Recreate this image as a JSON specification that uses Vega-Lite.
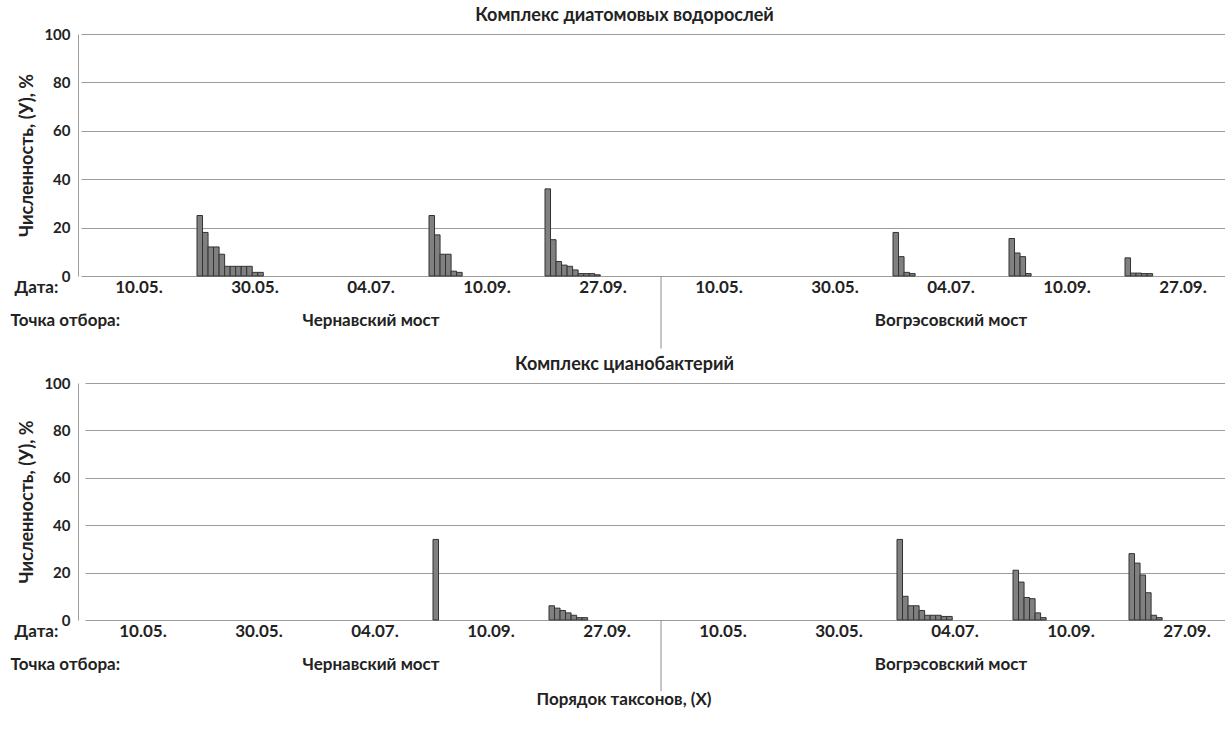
{
  "$schema": "https://vega.github.io/schema/vega-lite/v6.json",
  "background": "white",
  "padding": {"left": 10, "top": 7, "right": 0, "bottom": 5},
  "config": {
    "font": "Lato",
    "view": {"stroke": null},
    "axis": {"labelFont": "Lato", "labelFontWeight": "bold", "labelColor": "#222222", "titleFont": "Lato", "titleFontWeight": "bold", "titleColor": "#222222", "labelFontSize": 17, "titleFontSize": 17},
    "title": {"font": "Lato", "fontWeight": "bold", "fontSize": 18, "color": "#222222"}
  },
  "datasets": {
    "bars": [
      {"complex": "diatoms", "sample": "Чернавский мост 30.05.", "rank": 1, "value": 25},
      {"complex": "diatoms", "sample": "Чернавский мост 30.05.", "rank": 2, "value": 18},
      {"complex": "diatoms", "sample": "Чернавский мост 30.05.", "rank": 3, "value": 12},
      {"complex": "diatoms", "sample": "Чернавский мост 30.05.", "rank": 4, "value": 12},
      {"complex": "diatoms", "sample": "Чернавский мост 30.05.", "rank": 5, "value": 9},
      {"complex": "diatoms", "sample": "Чернавский мост 30.05.", "rank": 6, "value": 4},
      {"complex": "diatoms", "sample": "Чернавский мост 30.05.", "rank": 7, "value": 4},
      {"complex": "diatoms", "sample": "Чернавский мост 30.05.", "rank": 8, "value": 4},
      {"complex": "diatoms", "sample": "Чернавский мост 30.05.", "rank": 9, "value": 4},
      {"complex": "diatoms", "sample": "Чернавский мост 30.05.", "rank": 10, "value": 4},
      {"complex": "diatoms", "sample": "Чернавский мост 30.05.", "rank": 11, "value": 1.5},
      {"complex": "diatoms", "sample": "Чернавский мост 30.05.", "rank": 12, "value": 1.5},
      {"complex": "diatoms", "sample": "Чернавский мост 10.09.", "rank": 1, "value": 25},
      {"complex": "diatoms", "sample": "Чернавский мост 10.09.", "rank": 2, "value": 17},
      {"complex": "diatoms", "sample": "Чернавский мост 10.09.", "rank": 3, "value": 9},
      {"complex": "diatoms", "sample": "Чернавский мост 10.09.", "rank": 4, "value": 9},
      {"complex": "diatoms", "sample": "Чернавский мост 10.09.", "rank": 5, "value": 2},
      {"complex": "diatoms", "sample": "Чернавский мост 10.09.", "rank": 6, "value": 1.5},
      {"complex": "diatoms", "sample": "Чернавский мост 27.09.", "rank": 1, "value": 36},
      {"complex": "diatoms", "sample": "Чернавский мост 27.09.", "rank": 2, "value": 15},
      {"complex": "diatoms", "sample": "Чернавский мост 27.09.", "rank": 3, "value": 6},
      {"complex": "diatoms", "sample": "Чернавский мост 27.09.", "rank": 4, "value": 4.5},
      {"complex": "diatoms", "sample": "Чернавский мост 27.09.", "rank": 5, "value": 4},
      {"complex": "diatoms", "sample": "Чернавский мост 27.09.", "rank": 6, "value": 2.5},
      {"complex": "diatoms", "sample": "Чернавский мост 27.09.", "rank": 7, "value": 1},
      {"complex": "diatoms", "sample": "Чернавский мост 27.09.", "rank": 8, "value": 1},
      {"complex": "diatoms", "sample": "Чернавский мост 27.09.", "rank": 9, "value": 1},
      {"complex": "diatoms", "sample": "Чернавский мост 27.09.", "rank": 10, "value": 0.5},
      {"complex": "diatoms", "sample": "Вогрэсовский мост 04.07.", "rank": 1, "value": 18},
      {"complex": "diatoms", "sample": "Вогрэсовский мост 04.07.", "rank": 2, "value": 8},
      {"complex": "diatoms", "sample": "Вогрэсовский мост 04.07.", "rank": 3, "value": 1.5},
      {"complex": "diatoms", "sample": "Вогрэсовский мост 04.07.", "rank": 4, "value": 1},
      {"complex": "diatoms", "sample": "Вогрэсовский мост 10.09.", "rank": 1, "value": 15.5},
      {"complex": "diatoms", "sample": "Вогрэсовский мост 10.09.", "rank": 2, "value": 9.5},
      {"complex": "diatoms", "sample": "Вогрэсовский мост 10.09.", "rank": 3, "value": 8},
      {"complex": "diatoms", "sample": "Вогрэсовский мост 10.09.", "rank": 4, "value": 1},
      {"complex": "diatoms", "sample": "Вогрэсовский мост 27.09.", "rank": 1, "value": 7.5},
      {"complex": "diatoms", "sample": "Вогрэсовский мост 27.09.", "rank": 2, "value": 1.2},
      {"complex": "diatoms", "sample": "Вогрэсовский мост 27.09.", "rank": 3, "value": 1.2},
      {"complex": "diatoms", "sample": "Вогрэсовский мост 27.09.", "rank": 4, "value": 1},
      {"complex": "diatoms", "sample": "Вогрэсовский мост 27.09.", "rank": 5, "value": 1},
      {"complex": "cyano", "sample": "Чернавский мост 10.09.", "rank": 1, "value": 34},
      {"complex": "cyano", "sample": "Чернавский мост 27.09.", "rank": 1, "value": 6},
      {"complex": "cyano", "sample": "Чернавский мост 27.09.", "rank": 2, "value": 5},
      {"complex": "cyano", "sample": "Чернавский мост 27.09.", "rank": 3, "value": 4},
      {"complex": "cyano", "sample": "Чернавский мост 27.09.", "rank": 4, "value": 3},
      {"complex": "cyano", "sample": "Чернавский мост 27.09.", "rank": 5, "value": 2},
      {"complex": "cyano", "sample": "Чернавский мост 27.09.", "rank": 6, "value": 1},
      {"complex": "cyano", "sample": "Чернавский мост 27.09.", "rank": 7, "value": 1},
      {"complex": "cyano", "sample": "Вогрэсовский мост 04.07.", "rank": 1, "value": 34},
      {"complex": "cyano", "sample": "Вогрэсовский мост 04.07.", "rank": 2, "value": 10},
      {"complex": "cyano", "sample": "Вогрэсовский мост 04.07.", "rank": 3, "value": 6},
      {"complex": "cyano", "sample": "Вогрэсовский мост 04.07.", "rank": 4, "value": 6},
      {"complex": "cyano", "sample": "Вогрэсовский мост 04.07.", "rank": 5, "value": 4},
      {"complex": "cyano", "sample": "Вогрэсовский мост 04.07.", "rank": 6, "value": 2},
      {"complex": "cyano", "sample": "Вогрэсовский мост 04.07.", "rank": 7, "value": 2},
      {"complex": "cyano", "sample": "Вогрэсовский мост 04.07.", "rank": 8, "value": 2},
      {"complex": "cyano", "sample": "Вогрэсовский мост 04.07.", "rank": 9, "value": 1.5},
      {"complex": "cyano", "sample": "Вогрэсовский мост 04.07.", "rank": 10, "value": 1.5},
      {"complex": "cyano", "sample": "Вогрэсовский мост 10.09.", "rank": 1, "value": 21},
      {"complex": "cyano", "sample": "Вогрэсовский мост 10.09.", "rank": 2, "value": 16},
      {"complex": "cyano", "sample": "Вогрэсовский мост 10.09.", "rank": 3, "value": 9.5},
      {"complex": "cyano", "sample": "Вогрэсовский мост 10.09.", "rank": 4, "value": 9},
      {"complex": "cyano", "sample": "Вогрэсовский мост 10.09.", "rank": 5, "value": 3},
      {"complex": "cyano", "sample": "Вогрэсовский мост 10.09.", "rank": 6, "value": 1},
      {"complex": "cyano", "sample": "Вогрэсовский мост 27.09.", "rank": 1, "value": 28},
      {"complex": "cyano", "sample": "Вогрэсовский мост 27.09.", "rank": 2, "value": 24},
      {"complex": "cyano", "sample": "Вогрэсовский мост 27.09.", "rank": 3, "value": 19},
      {"complex": "cyano", "sample": "Вогрэсовский мост 27.09.", "rank": 4, "value": 11.5},
      {"complex": "cyano", "sample": "Вогрэсовский мост 27.09.", "rank": 5, "value": 2},
      {"complex": "cyano", "sample": "Вогрэсовский мост 27.09.", "rank": 6, "value": 1}
    ],
    "sites": [
      {"site": "Вогрэсовский мост"}
    ]
  },
  "title": {"text": "Порядок таксонов, (X)", "orient": "bottom", "anchor": "middle", "offset": 0, "fontSize": 17},
  "spacing": 6,
  "vconcat": [
    {
      "title": {"text": "Комплекс диатомовых водорослей", "offset": 2, "dx": -22},
      "width": 1137,
      "height": 242,
      "resolve": {"scale": {"x": "independent"}, "axis": {"x": "independent"}},
      "layer": [
        {
          "data": {"name": "bars"},
          "transform": [{"filter": "datum.complex == 'diatoms'"}],
          "mark": {"type": "bar", "fill": "#808080", "stroke": "#333333", "strokeWidth": 1},
          "encoding": {
            "x": {
              "field": "sample", "type": "nominal",
              "scale": {"domain": ["Чернавский мост 10.05.", "Чернавский мост 30.05.", "Чернавский мост 04.07.", "Чернавский мост 10.09.", "Чернавский мост 27.09.", "Вогрэсовский мост 10.05.", "Вогрэсовский мост 30.05.", "Вогрэсовский мост 04.07.", "Вогрэсовский мост 10.09.", "Вогрэсовский мост 27.09."], "range": [3, 1163], "paddingInner": 0, "paddingOuter": 0},
              "axis": {"orient": "bottom", "title": "Дата:", "labelExpr": "slice(datum.label, -6)", "labelAngle": 0, "ticks": false, "domain": false, "grid": false, "labelPadding": 3, "titleX": -64, "titleY": 3, "titleAlign": "left", "titleBaseline": "top", "titleAnchor": null}
            },
            "xOffset": {"field": "rank", "type": "ordinal", "scale": {"domain": [1,2,3,4,5,6,7,8,9,10,11,12,13,14,15,16,17,18,19,20,21], "paddingInner": 0, "paddingOuter": 0}},
            "y": {
              "field": "value", "type": "quantitative",
              "scale": {"domain": [0, 100]},
              "axis": {"title": "Численность, (У), %", "values": [0, 20, 40, 60, 80, 100], "grid": true, "gridColor": "#9c9c9c", "ticks": false, "domainColor": "#9c9c9c", "labelPadding": 8, "titlePadding": 7, "labelFontSize": 15, "titleFontSize": 18}
            }
          }
        },
        {
          "data": {"name": "sites"},
          "mark": {"type": "rule", "color": "#8c8c8c", "strokeWidth": 1},
          "encoding": {
            "x": {
              "field": "site", "type": "nominal", "bandPosition": 0,
              "scale": {"domain": ["Чернавский мост", "Вогрэсовский мост"], "range": [3, 1163], "paddingInner": 0, "paddingOuter": 0},
              "axis": {"orient": "bottom", "title": "Точка отбора:", "labelAngle": 0, "ticks": false, "domain": false, "grid": false, "labelPadding": 36, "titleX": -68, "titleY": 36, "titleAlign": "left", "titleBaseline": "top", "titleAnchor": null}
            },
            "y": {"datum": 0, "type": "quantitative", "scale": {"domain": [0, 100]}},
            "y2": {"datum": -30}
          }
        }
      ]
    },
    {
      "title": {"text": "Комплекс цианобактерий", "offset": 2, "dx": -22},
      "width": 1137,
      "height": 237,
      "resolve": {"scale": {"x": "independent"}, "axis": {"x": "independent"}},
      "layer": [
        {
          "data": {"name": "bars"},
          "transform": [{"filter": "datum.complex == 'cyano'"}],
          "mark": {"type": "bar", "fill": "#808080", "stroke": "#333333", "strokeWidth": 1},
          "encoding": {
            "x": {
              "field": "sample", "type": "nominal",
              "scale": {"domain": ["Чернавский мост 10.05.", "Чернавский мост 30.05.", "Чернавский мост 04.07.", "Чернавский мост 10.09.", "Чернавский мост 27.09.", "Вогрэсовский мост 10.05.", "Вогрэсовский мост 30.05.", "Вогрэсовский мост 04.07.", "Вогрэсовский мост 10.09.", "Вогрэсовский мост 27.09."], "range": [7, 1167], "paddingInner": 0, "paddingOuter": 0},
              "axis": {"orient": "bottom", "title": "Дата:", "labelExpr": "slice(datum.label, -6)", "labelAngle": 0, "ticks": false, "domain": false, "grid": false, "labelPadding": 3, "titleX": -64, "titleY": 3, "titleAlign": "left", "titleBaseline": "top", "titleAnchor": null}
            },
            "xOffset": {"field": "rank", "type": "ordinal", "scale": {"domain": [1,2,3,4,5,6,7,8,9,10,11], "paddingInner": 0, "paddingOuter": 0}},
            "y": {
              "field": "value", "type": "quantitative",
              "scale": {"domain": [0, 100]},
              "axis": {"title": "Численность, (У), %", "values": [0, 20, 40, 60, 80, 100], "grid": true, "gridColor": "#9c9c9c", "ticks": false, "domainColor": "#9c9c9c", "labelPadding": 8, "titlePadding": 7, "labelFontSize": 15, "titleFontSize": 18}
            }
          }
        },
        {
          "data": {"name": "sites"},
          "mark": {"type": "rule", "color": "#8c8c8c", "strokeWidth": 1},
          "encoding": {
            "x": {
              "field": "site", "type": "nominal", "bandPosition": 0,
              "scale": {"domain": ["Чернавский мост", "Вогрэсовский мост"], "range": [3, 1163], "paddingInner": 0, "paddingOuter": 0},
              "axis": {"orient": "bottom", "title": "Точка отбора:", "labelAngle": 0, "ticks": false, "domain": false, "grid": false, "labelPadding": 36, "titleX": -68, "titleY": 36, "titleAlign": "left", "titleBaseline": "top", "titleAnchor": null}
            },
            "y": {"datum": 0, "type": "quantitative", "scale": {"domain": [0, 100]}},
            "y2": {"datum": -30}
          }
        }
      ]
    }
  ]
}
